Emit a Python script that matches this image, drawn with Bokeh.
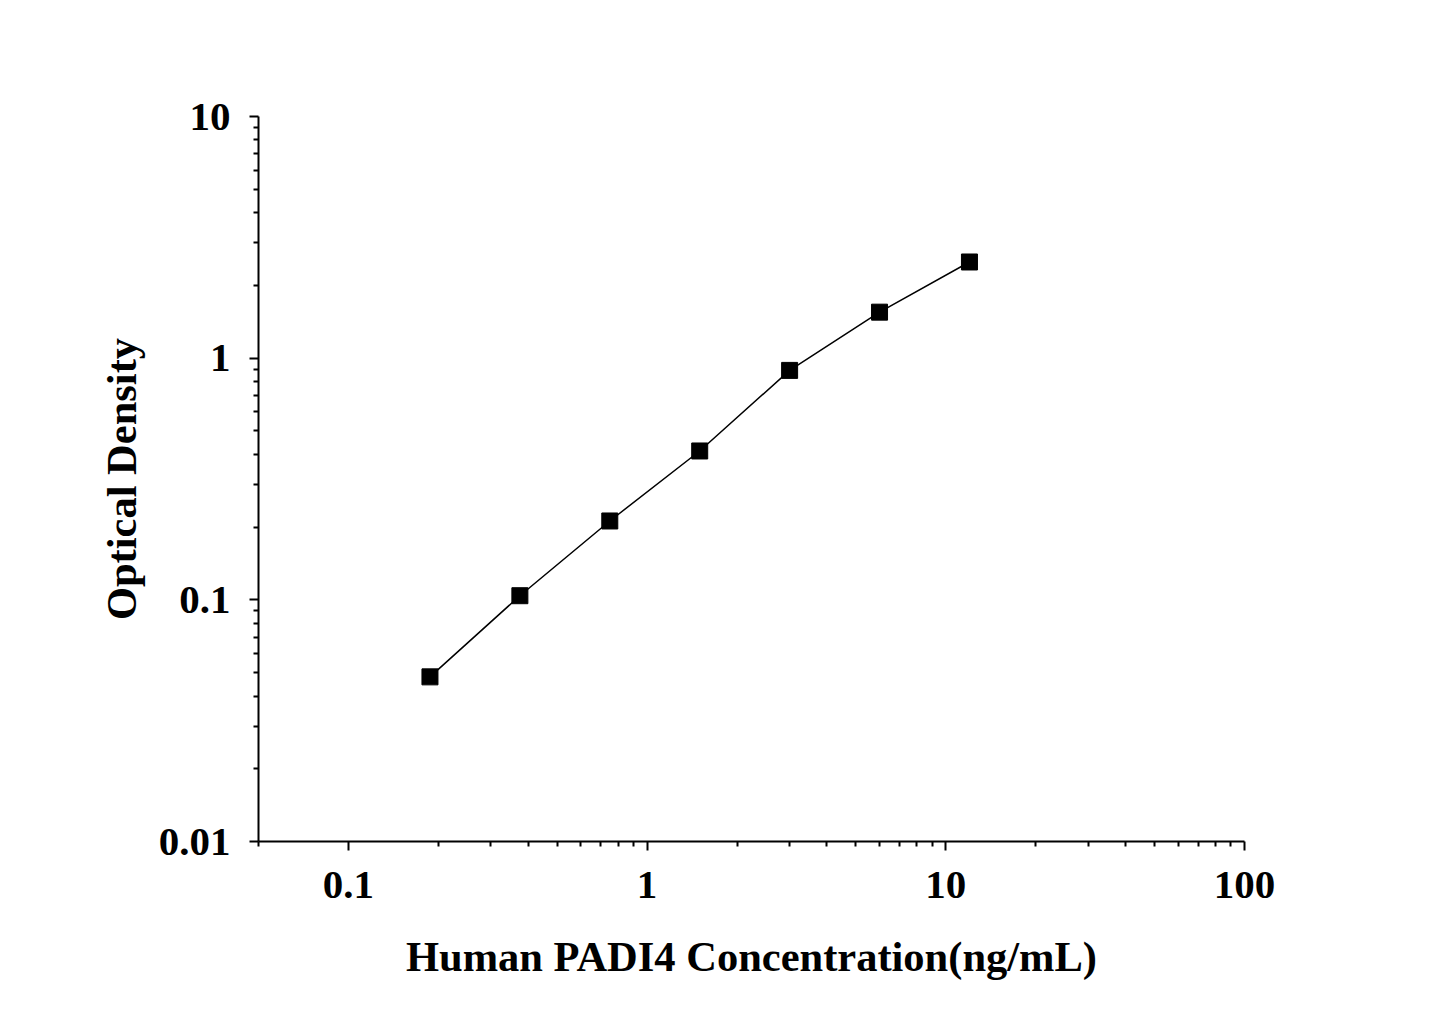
from bokeh.plotting import figure
from bokeh.models import FixedTicker, CustomJSTickFormatter, Range1d
from bokeh.embed import file_html
from bokeh.resources import INLINE

# standard curve data
conc = [0.1875, 0.375, 0.75, 1.5, 3, 6, 12]
od = [0.048, 0.104, 0.212, 0.413, 0.89, 1.55, 2.5]

x_major = [0.1, 1, 10, 100]
y_major = [0.01, 0.1, 1, 10]


def minor_ticks(lo_exp, hi_exp):
    out = []
    for e in range(lo_exp, hi_exp):
        for m in range(2, 10):
            out.append(round(m * 10 ** e, 6))
    return out


FONT = "Liberation Serif"

p = figure(width=1429, height=990, x_axis_type="log", y_axis_type="log",
           x_range=Range1d(0.05, 100), y_range=Range1d(0.01, 10),
           output_backend="svg", toolbar_location=None,
           min_border_left=258, min_border_top=116,
           min_border_right=185, min_border_bottom=149)

p.line(conc, od, line_color="black", line_width=1.5)
p.scatter(conc, od, marker="square", size=16, fill_color="black", line_color="black")

p.grid.visible = False
p.outline_line_color = None

fmt = CustomJSTickFormatter(code="return tick.toString();")

p.xaxis.ticker = FixedTicker(ticks=x_major, minor_ticks=[0.05] + minor_ticks(-1, 2))
p.yaxis.ticker = FixedTicker(ticks=y_major, minor_ticks=minor_ticks(-2, 1))

for ax in (p.xaxis, p.yaxis):
    ax.formatter = fmt
    ax.axis_line_width = 2
    ax.axis_line_color = "black"
    ax.major_tick_line_width = 2
    ax.minor_tick_line_width = 2
    ax.major_tick_line_color = "black"
    ax.minor_tick_line_color = "black"
    ax.major_tick_out = 9
    ax.major_tick_in = 0
    ax.minor_tick_out = 5
    ax.minor_tick_in = 0
    ax.major_label_text_font = FONT
    ax.major_label_text_font_style = "bold"
    ax.major_label_text_font_size = "41px"
    ax.major_label_text_color = "black"
    ax.axis_label_text_font = FONT
    ax.axis_label_text_font_style = "bold"
    ax.axis_label_text_font_size = "42.5px"
    ax.axis_label_text_color = "black"

p.xaxis.axis_label = "Human PADI4 Concentration(ng/mL)"
p.yaxis.axis_label = "Optical Density"
p.xaxis.major_label_standoff = 21
p.yaxis.major_label_standoff = 19
p.xaxis.axis_label_standoff = 32
p.yaxis.axis_label_standoff = 11

open("out.html", "w").write(file_html(p, INLINE))
